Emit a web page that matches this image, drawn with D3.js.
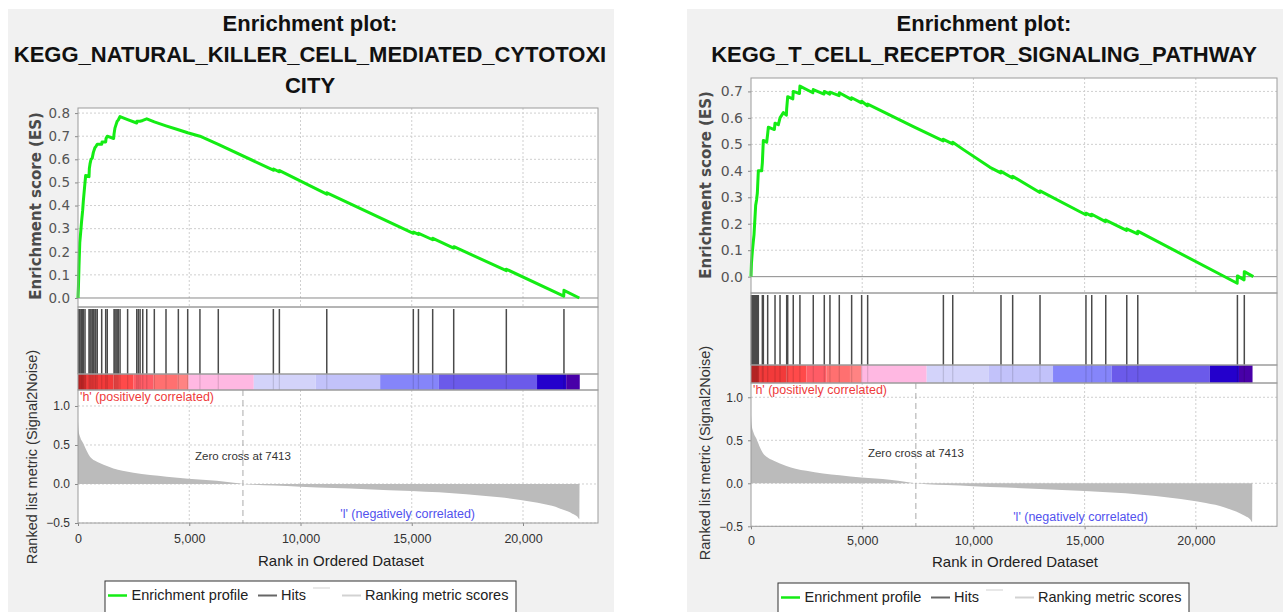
<!DOCTYPE html>
<html>
<head>
<meta charset="utf-8">
<script src="https://cdnjs.cloudflare.com/ajax/libs/d3/7.8.5/d3.min.js"></script>
<style>
body { margin: 0; background: #fff; }
svg { display: block; }
</style>
</head>
<body>
<div id="chart"></div>
<script>
// ---- data ----
var nkTitle = ["Enrichment plot:", "KEGG_NATURAL_KILLER_CELL_MEDIATED_CYTOTOXI", "CITY"];
var tcrTitle = ["Enrichment plot:", "KEGG_T_CELL_RECEPTOR_SIGNALING_PATHWAY"];

// rank positions of the gene set members
var nkHits = [20, 45, 80, 135, 160, 210, 240, 315, 495, 540, 585, 640, 690, 760, 800, 865, 1065, 1245, 1315,
    1620, 1660, 1710, 1760, 1810, 1890, 2230, 2640, 2710, 2790, 2910, 3090, 3430, 3955, 4510, 4930, 5480,
    6305, 8780, 9050, 11180, 15070, 15300, 15940, 16885, 19250, 21840];
var tcrHits = [20, 60, 100, 135, 170, 210, 250, 285, 330, 510, 555, 750, 1080, 1305, 1605, 1650, 1900, 2200,
    2800, 3295, 3550, 3970, 4525, 4975, 5245, 8650, 9070, 11240, 11765, 12995, 15060, 15320, 15950, 16895,
    17390, 21870, 22180];

// running enrichment score [rank, ES]
var nkES = [[0, 0], [20, 0.05], [45, 0.14], [80, 0.24], [135, 0.30], [160, 0.33], [210, 0.38], [240, 0.42],
    [315, 0.50], [345, 0.53], [495, 0.525], [510, 0.56], [540, 0.58], [585, 0.60], [640, 0.605], [690, 0.63],
    [760, 0.65], [800, 0.655], [865, 0.665], [1065, 0.665], [1080, 0.675], [1245, 0.675], [1260, 0.69],
    [1315, 0.70], [1600, 0.69], [1620, 0.71], [1660, 0.735], [1710, 0.75], [1760, 0.765], [1810, 0.77],
    [1890, 0.785], [2230, 0.772], [2640, 0.757], [2650, 0.765], [2710, 0.765], [2790, 0.765], [2910, 0.768],
    [3090, 0.775], [3430, 0.762], [3955, 0.745], [4510, 0.728], [4930, 0.715], [5480, 0.70], [6305, 0.665],
    [8780, 0.553], [8790, 0.558], [9050, 0.546], [9060, 0.551], [11180, 0.449], [11190, 0.455],
    [15070, 0.28], [15080, 0.285], [15300, 0.275], [15310, 0.28], [15940, 0.252], [15950, 0.258],
    [16885, 0.216], [16895, 0.222], [19250, 0.118], [19260, 0.124], [21830, 0.008], [21840, 0.033],
    [22530, 0]];
var tcrES = [[0, 0], [20, 0.05], [60, 0.095], [100, 0.13], [135, 0.158], [170, 0.21], [210, 0.27], [250, 0.29],
    [285, 0.316], [330, 0.40], [480, 0.40], [510, 0.43], [555, 0.515], [705, 0.508], [750, 0.54], [780, 0.565],
    [1050, 0.556], [1080, 0.58], [1230, 0.574], [1305, 0.60], [1455, 0.62], [1590, 0.61], [1605, 0.635],
    [1650, 0.68], [1880, 0.672], [1900, 0.70], [2180, 0.692], [2200, 0.72], [2780, 0.695], [2800, 0.707],
    [3280, 0.69], [3295, 0.70], [3540, 0.69], [3550, 0.697], [3960, 0.684], [3970, 0.695], [4510, 0.67],
    [4525, 0.676], [4965, 0.657], [4975, 0.663], [5235, 0.646], [5245, 0.652], [7300, 0.567], [8640, 0.513],
    [8650, 0.519], [9060, 0.502], [9070, 0.508], [9550, 0.48], [10745, 0.413], [11230, 0.392], [11240, 0.398],
    [11755, 0.373], [11765, 0.379], [12985, 0.318], [12995, 0.324], [15050, 0.234], [15060, 0.24],
    [15310, 0.23], [15320, 0.236], [15940, 0.208], [15950, 0.214], [16885, 0.175], [16895, 0.181],
    [17380, 0.162], [17390, 0.172], [21860, -0.025], [21870, 0.003], [22170, -0.012], [22180, 0.019],
    [22585, 0]];

// ranked list metric (Signal2Noise) [rank, value], same list for both plots
var rankedMetric = [[0, 0.80], [30, 0.68], [100, 0.60], [240, 0.52], [400, 0.42], [540, 0.35], [750, 0.30],
    [1000, 0.265], [1300, 0.23], [1590, 0.20], [2000, 0.17], [2490, 0.145], [3240, 0.115], [3985, 0.094],
    [4960, 0.068], [6240, 0.042], [7000, 0.015], [7413, 0], [7900, -0.01], [8800, -0.02], [10000, -0.034],
    [11500, -0.05], [12975, -0.066], [15000, -0.09], [17450, -0.13], [18950, -0.17], [20450, -0.23],
    [21300, -0.28], [21620, -0.31], [22000, -0.35], [22220, -0.38], [22450, -0.42], [22530, -0.45],
    [22540, 0]];

// heat bar bin edges (ranks)
var colorBarBreaks = [0, 400, 1600, 2500, 3400, 4450, 4970, 7900, 10680, 13580, 16220, 20630, 21940, 22550];

var nkEsTicks = [0, 0.1, 0.2, 0.3, 0.4, 0.5, 0.6, 0.7, 0.8];
var tcrEsTicks = [0, 0.1, 0.2, 0.3, 0.4, 0.5, 0.6, 0.7];
var metricTicks = [-0.5, 0, 0.5, 1.0];
var rankTicks = [0, 5000, 10000, 15000, 20000];
var zeroCross = 7413;
var legendLabels = ["Enrichment profile", "Hits", "", "Ranking metric scores"];

// ---- styles ----
var barColors = ["#da2c2c", "#f23a3a", "#ff4a4a", "#ff5c66", "#ff7070", "#ff8383", "#ffb8e2", "#d3d3fa",
    "#c2c2fa", "#8585fa", "#6b5aea", "#2400cc", "#4800a8"];
var ARIAL = "'Liberation Sans', Arial, sans-serif";
var TAHOMA = "'DejaVu Sans', Tahoma, sans-serif";
var frameColor = "#9c9c9c";
var gridColor = "#cfcfcf";

var panels = [
    {title: nkTitle, bg: [8, 614], cx: 310, left: 78, right: 598, xMax: 23370,
     esTop: 108, esBottom: 307, esDomain: [-0.039, 0.822], hitsBottom: 374, barBottom: 390,
     rankBottom: 523, metricDomain: [-0.5, 1.205], es: nkES, hits: nkHits, esTicks: nkEsTicks,
     esLabel: [41, 206], metricLabel: [37, 457], xTickY: 543, xLabelX: 341, xLabelY: 566,
     legend: [105, 581], esTickSize: 13.5},
    {title: tcrTitle, bg: [687, 1283], cx: 984, left: 751, right: 1277, xMax: 23650,
     esTop: 78, esBottom: 293, esDomain: [-0.0617, 0.7507], hitsBottom: 365, barBottom: 383,
     rankBottom: 526.3, metricDomain: [-0.5, 1.166], es: tcrES, hits: tcrHits, esTicks: tcrEsTicks,
     esLabel: [711, 185], metricLabel: [710, 453], xTickY: 545, xLabelX: 1015, xLabelY: 567,
     legend: [778, 583], esTickSize: 14}
];

var svg = d3.select("#chart")
    .append("svg")
    .attr("width", 1283)
    .attr("height", 612);

panels.forEach(drawPanel);

function drawPanel(p) {
    var g = svg.append("g");

    g.append("rect")
        .attr("x", p.bg[0]).attr("y", 9)
        .attr("width", p.bg[1] - p.bg[0]).attr("height", 612 - 9)
        .attr("fill", "#f1f1f1");

    // title
    g.selectAll(null)
        .data(p.title)
        .enter()
        .append("text")
        .attr("x", p.cx)
        .attr("y", (d, i) => 31 + i * 31)
        .attr("text-anchor", "middle")
        .attr("font-family", ARIAL)
        .attr("font-weight", "bold")
        .attr("font-size", 22)
        .attr("fill", "#111")
        .text(d => d);

    var x = d3.scaleLinear().domain([0, p.xMax]).range([p.left, p.right]);
    var yES = d3.scaleLinear().domain(p.esDomain).range([p.esBottom, p.esTop]);
    var yM = d3.scaleLinear().domain(p.metricDomain).range([p.rankBottom, p.barBottom]);
    var w = p.right - p.left;

    // white plot areas
    [[p.esTop, p.esBottom], [p.esBottom, p.hitsBottom], [p.hitsBottom, p.barBottom], [p.barBottom, p.rankBottom]]
        .forEach(function (r) {
            g.append("rect")
                .attr("x", p.left).attr("y", r[0])
                .attr("width", w).attr("height", r[1] - r[0])
                .attr("fill", "#fff");
        });

    // ---- ES plot ----
    g.selectAll(null)
        .data(p.esTicks.slice(1))
        .enter()
        .append("line")
        .attr("x1", p.left).attr("x2", p.right)
        .attr("y1", d => yES(d)).attr("y2", d => yES(d))
        .attr("stroke", gridColor).attr("stroke-dasharray", "2,2");

    g.selectAll(null)
        .data(rankTicks.slice(1))
        .enter()
        .append("line")
        .attr("x1", d => x(d)).attr("x2", d => x(d))
        .attr("y1", p.esTop).attr("y2", p.esBottom)
        .attr("stroke", gridColor).attr("stroke-dasharray", "2,2");

    g.append("line")
        .attr("x1", p.left).attr("x2", p.right)
        .attr("y1", yES(0)).attr("y2", yES(0))
        .attr("stroke", "#8a8a8a");

    var esAxis = d3.axisLeft(yES)
        .tickValues(p.esTicks)
        .tickFormat(d3.format(".1f"))
        .tickSize(3)
        .tickPadding(5);

    var ea = g.append("g")
        .attr("transform", `translate(${p.left},0)`)
        .call(esAxis);
    ea.select(".domain").remove();
    ea.selectAll("line").attr("stroke", "#888");
    ea.selectAll("text")
        .attr("font-family", TAHOMA)
        .attr("font-size", p.esTickSize)
        .attr("fill", "#555");

    g.append("text")
        .attr("transform", `translate(${p.esLabel[0]},${p.esLabel[1]}) rotate(-90)`)
        .attr("text-anchor", "middle")
        .attr("font-family", TAHOMA)
        .attr("font-weight", "bold")
        .attr("font-size", 15)
        .attr("fill", "#4a4a4a")
        .text("Enrichment score (ES)");

    var esLine = d3.line()
        .x(d => x(d[0]))
        .y(d => yES(d[1]));

    g.append("path")
        .datum(p.es)
        .attr("d", esLine)
        .attr("fill", "none")
        .attr("stroke", "#14ec14")
        .attr("stroke-width", 3)
        .attr("stroke-linejoin", "round");

    // ---- hits ----
    g.selectAll(null)
        .data(p.hits)
        .enter()
        .append("line")
        .attr("x1", d => x(d)).attr("x2", d => x(d))
        .attr("y1", p.esBottom + 2).attr("y2", p.hitsBottom)
        .attr("stroke", "#4a4a4a")
        .attr("stroke-width", 1.5);

    // ---- colour bar ----
    g.selectAll(null)
        .data(barColors)
        .enter()
        .append("rect")
        .attr("x", (d, i) => x(colorBarBreaks[i]))
        .attr("width", (d, i) => x(colorBarBreaks[i + 1]) - x(colorBarBreaks[i]))
        .attr("y", p.hitsBottom)
        .attr("height", p.barBottom - p.hitsBottom)
        .attr("fill", d => d);

    g.selectAll(null)
        .data(p.hits)
        .enter()
        .append("line")
        .attr("x1", d => x(d)).attr("x2", d => x(d))
        .attr("y1", p.hitsBottom).attr("y2", p.barBottom)
        .attr("stroke", "#000")
        .attr("stroke-opacity", 0.12)
        .attr("stroke-width", 1.3);

    // ---- ranked list metric ----
    g.selectAll(null)
        .data(metricTicks)
        .enter()
        .append("line")
        .attr("x1", p.left).attr("x2", p.right)
        .attr("y1", d => yM(d)).attr("y2", d => yM(d))
        .attr("stroke", gridColor).attr("stroke-dasharray", "2,2");

    g.selectAll(null)
        .data(rankTicks.slice(1))
        .enter()
        .append("line")
        .attr("x1", d => x(d)).attr("x2", d => x(d))
        .attr("y1", p.barBottom).attr("y2", p.rankBottom)
        .attr("stroke", gridColor).attr("stroke-dasharray", "2,2");

    var metricArea = d3.area()
        .x(d => x(d[0]))
        .y0(yM(0))
        .y1(d => yM(d[1]))
        .curve(d3.curveMonotoneX);

    g.append("path")
        .datum(rankedMetric)
        .attr("d", metricArea)
        .attr("fill", "#bbbbbb");

    g.append("line")
        .attr("x1", x(zeroCross)).attr("x2", x(zeroCross))
        .attr("y1", p.barBottom).attr("y2", p.rankBottom)
        .attr("stroke", "#aaa")
        .attr("stroke-dasharray", "6,4");

    g.append("text")
        .attr("x", x(zeroCross))
        .attr("y", yM(0.31))
        .attr("text-anchor", "middle")
        .attr("font-family", ARIAL)
        .attr("font-size", 11.5)
        .attr("fill", "#333")
        .text("Zero cross at " + zeroCross);

    g.append("text")
        .attr("x", p.left + 2)
        .attr("y", p.barBottom + 10.5)
        .attr("font-family", ARIAL)
        .attr("font-size", 12.5)
        .attr("fill", "#ee3b3b")
        .text("'h' (positively correlated)");

    g.append("text")
        .attr("x", x(11790))
        .attr("y", p.rankBottom - 5)
        .attr("font-family", ARIAL)
        .attr("font-size", 12.5)
        .attr("fill", "#5252ee")
        .text("'l' (negatively correlated)");

    var mAxis = d3.axisLeft(yM)
        .tickValues(metricTicks)
        .tickFormat(d3.format(".1f"))
        .tickSize(3)
        .tickPadding(5);

    var ma = g.append("g")
        .attr("transform", `translate(${p.left},0)`)
        .call(mAxis);
    ma.select(".domain").remove();
    ma.selectAll("line").attr("stroke", "#888");
    ma.selectAll("text")
        .attr("font-family", ARIAL)
        .attr("font-size", 12)
        .attr("fill", "#333");

    var xAxis = d3.axisBottom(x)
        .tickValues(rankTicks)
        .tickFormat(d3.format(","))
        .tickSize(3);

    var xa = g.append("g")
        .attr("transform", `translate(0,${p.rankBottom})`)
        .call(xAxis);
    xa.select(".domain").remove();
    xa.selectAll("line").attr("stroke", "#888");
    xa.selectAll("text")
        .attr("y", p.xTickY - p.rankBottom)
        .attr("dy", 0)
        .attr("font-family", ARIAL)
        .attr("font-size", 12.5)
        .attr("fill", "#333");

    g.append("text")
        .attr("transform", `translate(${p.metricLabel[0]},${p.metricLabel[1]}) rotate(-90)`)
        .attr("text-anchor", "middle")
        .attr("font-family", ARIAL)
        .attr("font-size", 14.5)
        .attr("fill", "#333")
        .text("Ranked list metric (Signal2Noise)");

    g.append("text")
        .attr("x", p.xLabelX)
        .attr("y", p.xLabelY)
        .attr("text-anchor", "middle")
        .attr("font-family", ARIAL)
        .attr("font-size", 15)
        .attr("fill", "#222")
        .text("Rank in Ordered Dataset");

    // frames
    [[p.esTop, p.esBottom], [p.esBottom, p.hitsBottom], [p.hitsBottom, p.barBottom], [p.barBottom, p.rankBottom]]
        .forEach(function (r) {
            g.append("rect")
                .attr("x", p.left).attr("y", r[0])
                .attr("width", w).attr("height", r[1] - r[0])
                .attr("fill", "none")
                .attr("stroke", frameColor);
        });

    // ---- legend ----
    var lx = p.legend[0], ly = p.legend[1];
    g.append("rect")
        .attr("x", lx).attr("y", ly)
        .attr("width", 411).attr("height", 40)
        .attr("fill", "#fff")
        .attr("stroke", "#333");

    var legendItems = [
        {line: [3, 22], dy: 14.5, color: "#14ec14", width: 2.5, text: 26.5},
        {line: [153, 172], dy: 14.5, color: "#666", width: 2, text: 176},
        {line: [208, 225], dy: 7, color: "#e8e8e8", width: 2, text: 228},
        {line: [237, 256], dy: 14.5, color: "#d2d2d2", width: 2, text: 260}
    ];

    legendItems.forEach(function (it, i) {
        g.append("line")
            .attr("x1", lx + it.line[0]).attr("x2", lx + it.line[1])
            .attr("y1", ly + it.dy).attr("y2", ly + it.dy)
            .attr("stroke", it.color)
            .attr("stroke-width", it.width);
        g.append("text")
            .attr("x", lx + it.text)
            .attr("y", ly + 19)
            .attr("font-family", ARIAL)
            .attr("font-size", 14.5)
            .attr("fill", "#222")
            .text(legendLabels[i]);
    });
}
</script>
</body>
</html>
